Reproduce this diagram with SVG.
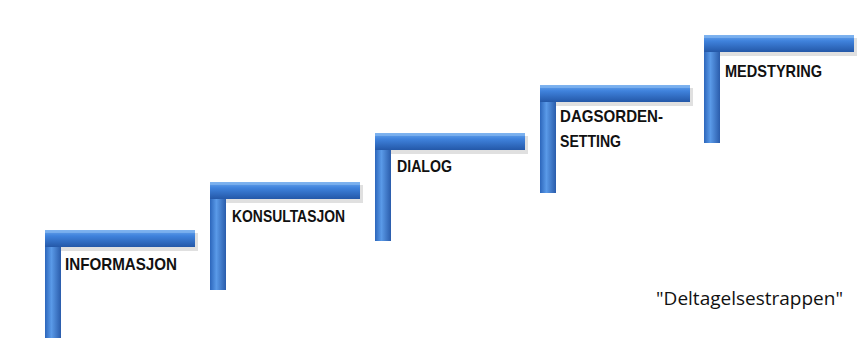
<svg xmlns="http://www.w3.org/2000/svg" width="862" height="343" viewBox="0 0 862 343">
<defs>
<linearGradient id="gh" x1="0" y1="0" x2="0" y2="1">
<stop offset="0" stop-color="#6aa6ec"/>
<stop offset="0.35" stop-color="#3f82dc"/>
<stop offset="1" stop-color="#2458a8"/>
</linearGradient>
<linearGradient id="gv" x1="0" y1="0" x2="1" y2="0">
<stop offset="0" stop-color="#2c66bb"/>
<stop offset="0.4" stop-color="#5a9ae8"/>
<stop offset="1" stop-color="#2a5cab"/>
</linearGradient>
<g id="step">
<rect x="3" y="3" width="150" height="18" fill="#000" opacity="0.12"/>
<rect x="0" y="0" width="16" height="108" fill="url(#gv)"/>
<rect x="0" y="0" width="150" height="17" fill="url(#gh)"/>
<rect x="0" y="0" width="150" height="3" fill="#8cbcf2" opacity="0.6"/>
</g>
</defs>
<style>
.lbl{font-family:"Liberation Sans",Arial,sans-serif;font-weight:bold;font-size:17px;fill:#111;}
.cap{font-family:"Open Sans","Liberation Sans",sans-serif;font-size:19px;fill:#111;}
</style>
<rect width="862" height="343" fill="#fff"/>
<g id="step1"><use href="#step" x="45" y="230"/><text class="lbl" x="65" y="270" textLength="112" lengthAdjust="spacingAndGlyphs">INFORMASJON</text></g>
<g id="step2"><use href="#step" x="210" y="182"/><text class="lbl" x="232" y="222" textLength="113" lengthAdjust="spacingAndGlyphs">KONSULTASJON</text></g>
<g id="step3"><use href="#step" x="375" y="133"/><text class="lbl" x="397" y="172" textLength="55" lengthAdjust="spacingAndGlyphs">DIALOG</text></g>
<g id="step4"><use href="#step" x="540" y="85"/><text class="lbl" x="560" y="122" textLength="103" lengthAdjust="spacingAndGlyphs">DAGSORDEN-</text><text class="lbl" x="560" y="147" textLength="61" lengthAdjust="spacingAndGlyphs">SETTING</text></g>
<g id="step5"><use href="#step" x="704" y="35"/><text class="lbl" x="725" y="77" textLength="97" lengthAdjust="spacingAndGlyphs">MEDSTYRING</text></g>
<text class="cap" x="843" y="305" text-anchor="end">"Deltagelsestrappen"</text>
</svg>
